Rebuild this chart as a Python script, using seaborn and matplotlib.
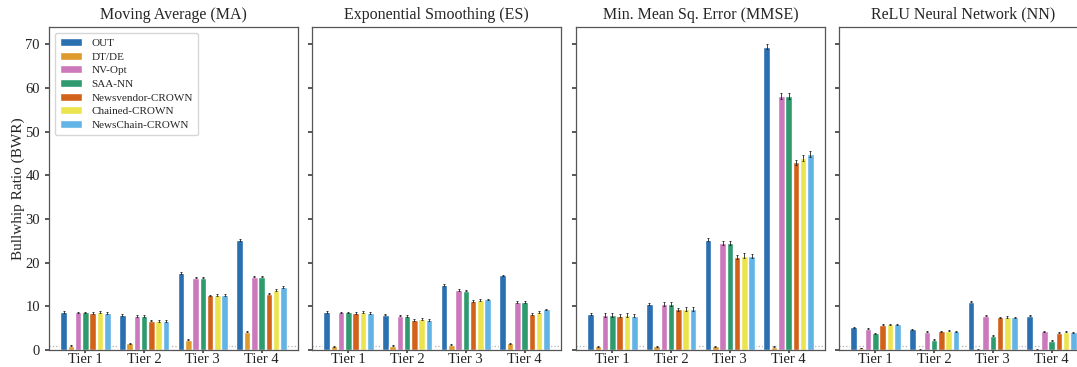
import pandas as pd
import seaborn as sns
import matplotlib.pyplot as plt

sns.set_theme(style="ticks")
plt.rcParams['font.family'] = ['Liberation Serif', 'DejaVu Serif']

tiers = ['Tier 1', 'Tier 2', 'Tier 3', 'Tier 4']
methods = ['OUT', 'DT/DE', 'NV-Opt', 'SAA-NN', 'Newsvendor-CROWN', 'Chained-CROWN', 'NewsChain-CROWN']
colors = ['#2a6fb0', '#de9a2c', '#cc78bc', '#2e9a6e', '#d2611a', '#ece44f', '#63b4e6']
titles = ['Moving Average (MA)', 'Exponential Smoothing (ES)', 'Min. Mean Sq. Error (MMSE)', 'ReLU Neural Network (NN)']

# rows = methods, cols = tiers
ma_vals = [[8.7, 8.0, 17.6, 25.2],
           [1.0, 1.5, 2.4, 4.2],
           [8.6, 7.8, 16.6, 16.8],
           [8.6, 7.8, 16.6, 16.8],
           [8.5, 6.7, 12.5, 12.9],
           [8.6, 6.7, 12.6, 13.7],
           [8.5, 6.6, 12.6, 14.5]]
es_vals = [[8.7, 8.1, 14.9, 17.1],
           [0.9, 1.0, 1.2, 1.5],
           [8.6, 7.9, 13.7, 11.0],
           [8.6, 7.8, 13.6, 11.0],
           [8.5, 6.9, 11.2, 8.3],
           [8.7, 7.0, 11.5, 8.8],
           [8.5, 6.9, 11.6, 9.3]]
mmse_vals = [[8.2, 10.5, 25.3, 69.5],
             [0.9, 0.9, 0.9, 0.8],
             [8.1, 10.5, 24.5, 58.2],
             [8.1, 10.5, 24.5, 58.2],
             [7.9, 9.3, 21.4, 43.0],
             [8.0, 9.5, 21.6, 44.0],
             [7.9, 9.4, 21.6, 44.9]]
nn_vals = [[5.2, 4.8, 11.1, 7.8],
           [0.4, 0.1, 0.1, 0.1],
           [4.9, 4.2, 7.9, 4.3],
           [3.8, 2.4, 3.3, 2.1],
           [5.8, 4.3, 7.5, 4.0],
           [5.9, 4.4, 7.6, 4.2],
           [5.9, 4.3, 7.5, 4.1]]

ma_err = [0.15, 0.1, 0.15, 0.15, 0.15, 0.2, 0.15]
es_err = [0.15, 0.1, 0.15, 0.15, 0.15, 0.2, 0.15]
mmse_err = [0.25, 0.1, 0.4, 0.4, 0.35, 0.4, 0.35]
nn_err = [0.1, 0.05, 0.1, 0.1, 0.1, 0.15, 0.1]

panels = [ma_vals, es_vals, mmse_vals, nn_vals]
errs = [ma_err, es_err, mmse_err, nn_err]

W, H = 1077, 367
fig = plt.figure(figsize=(W / 100, H / 100), dpi=100)
lefts = [49, 312, 576, 839]

for i, (vals, err) in enumerate(zip(panels, errs)):
    ax = fig.add_axes([lefts[i] / W, (H - 350) / H, 249 / W, (350 - 27) / H])
    rows = []
    for m, mv in zip(methods, vals):
        for t, v in zip(tiers, mv):
            rows.append({'tier': t, 'method': m, 'bwr': v})
    df = pd.DataFrame(rows)
    sns.barplot(data=df, x='tier', y='bwr', hue='method', hue_order=methods,
                palette=colors, errorbar=None, gap=0.1, width=0.87,
                saturation=1, legend=(i == 0), ax=ax)
    # error bars on top of each bar
    bars = list(ax.containers)
    for k, cont in enumerate(bars):
        xs = [b.get_x() + b.get_width() / 2 for b in cont]
        ys = [b.get_height() for b in cont]
        scale = [1 + 0.015 * y for y in ys]
        ax.errorbar(xs, ys, yerr=[err[k] * s for s in scale], fmt='none',
                    ecolor='#222222', elinewidth=0.6, capsize=1.0, capthick=0.6)
    ax.axhline(1, color='#b0b0b0', ls=':', lw=0.9, zorder=0)
    ax.set_ylim(0, 74)
    ax.set_xlim(-0.62, 3.62)
    ax.set_yticks(range(0, 71, 10))
    ax.set_xlabel('')
    ax.set_title(titles[i], fontsize=11.5, pad=6)
    ax.tick_params(labelsize=10.5, length=3, color='#444444', labelcolor='#222222')
    ax.tick_params(axis='x', length=2, pad=0.5, labelsize=10.5)
    for s in ax.spines.values():
        s.set_color('#555555')
        s.set_linewidth(0.9)
    if i == 0:
        ax.set_ylabel('Bullwhip Ratio (BWR)', fontsize=11)
        ax.yaxis.set_label_coords(-0.095, 0.5)
        ax.legend(loc='upper left', fontsize=8, title=None, frameon=True,
                  labelspacing=0.35, handlelength=2.0, borderpad=0.5,
                  edgecolor='#cccccc', fancybox=True)
    else:
        ax.set_ylabel('')
        ax.tick_params(labelleft=False)

fig.savefig('out.png', dpi=100)
